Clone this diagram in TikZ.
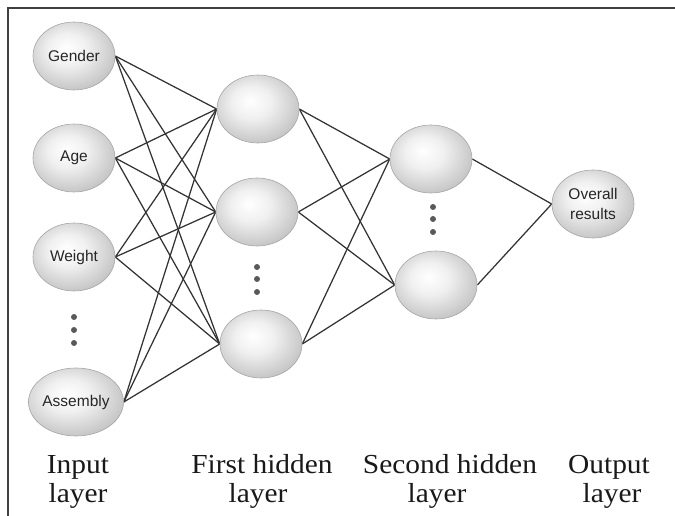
\documentclass[tikz,border=0pt]{standalone}
\usepackage{fontspec}
\setmainfont{Liberation Serif}
\newfontfamily\nodefont{Liberation Sans}
\newfontfamily\lblfont[FakeStretch=1.07]{Liberation Serif}
\usetikzlibrary{backgrounds,shapes.geometric}
\pgfdeclareradialshading{orb}{\pgfpoint{-5bp}{6bp}}{color(0bp)=(white); color(12bp)=(black!6); color(30bp)=(black!24); color(46bp)=(black!48); color(52bp)=(black!55); color(62bp)=(black!58)}
\tikzset{
  neuron/.style={ellipse, minimum width=82pt, minimum height=68pt, inner sep=0pt,
    draw=black!35, line width=0.6pt, shade, shading=orb,
    font=\nodefont\fontsize{15.5}{20}\selectfont, text=black!85, align=center},
  link/.style={draw=black!80, line width=1.25pt},
  dotnode/.style={circle, fill=black!65, minimum size=6pt, inner sep=0pt},
  lbl/.style={font=\lblfont\fontsize{27.5}{30}\selectfont, text=black!90, anchor=base, inner sep=0pt},
  frameline/.style={draw=black!75, line width=2pt}
}
\begin{document}
\begin{tikzpicture}[x=1pt,y=-1pt]
\useasboundingbox (0,0) rectangle (675,516);
% frame
\coordinate (fbl) at (8,516);
\coordinate (ftl) at (8,8);
\coordinate (ftr) at (675,8);
\draw[frameline] (fbl) -- (ftl) -- (ftr);
% input layer
\node[neuron] (i1) at (74,56) {Gender};
\node[neuron] (i2) at (74,158) {Age};
\node[neuron] (i3) at (74,257) {Weight};
\node[neuron] (i4) at (76,402) {Assembly};
\node[dotnode] (id1) at (74,317) {};
\node[dotnode] (id2) at (74,330) {};
\node[dotnode] (id3) at (74,343) {};
% first hidden
\node[neuron] (h1) at (258,109) {};
\node[neuron] (h2) at (257,212) {};
\node[neuron] (h3) at (261,344) {};
\node[dotnode] (hd1) at (257,267) {};
\node[dotnode] (hd2) at (257,279) {};
\node[dotnode] (hd3) at (257,292) {};
% second hidden
\node[neuron] (s1) at (431,159) {};
\node[neuron] (s2) at (436,285) {};
\node[dotnode] (sd1) at (433,207) {};
\node[dotnode] (sd2) at (433,219) {};
\node[dotnode] (sd3) at (433,232) {};
% output
\node[neuron] (o) at (593,204) {Overall\\results};
% connectors
\begin{pgfonlayer}{background}
\foreach \a in {i1,i2,i3,i4}
  \foreach \b in {h1,h2,h3}
    \draw[link] (\a.east) -- (\b.west);
\foreach \a in {h1,h2,h3}
  \foreach \b in {s1,s2}
    \draw[link] (\a.east) -- (\b.west);
\foreach \a in {s1,s2}
  \draw[link] (\a.east) -- (o.west);
\end{pgfonlayer}
% labels
\node[lbl] (l1a) at (78,473) {Input};
\node[lbl] (l1b) at (78,502) {layer};
\node[lbl] (l2a) at (262,473) {First hidden};
\node[lbl] (l2b) at (258,502) {layer};
\node[lbl] (l3a) at (450,473) {Second hidden};
\node[lbl] (l3b) at (437,502) {layer};
\node[lbl] (l4a) at (609,473) {Output};
\node[lbl] (l4b) at (612,502) {layer};
\end{tikzpicture}
\end{document}
